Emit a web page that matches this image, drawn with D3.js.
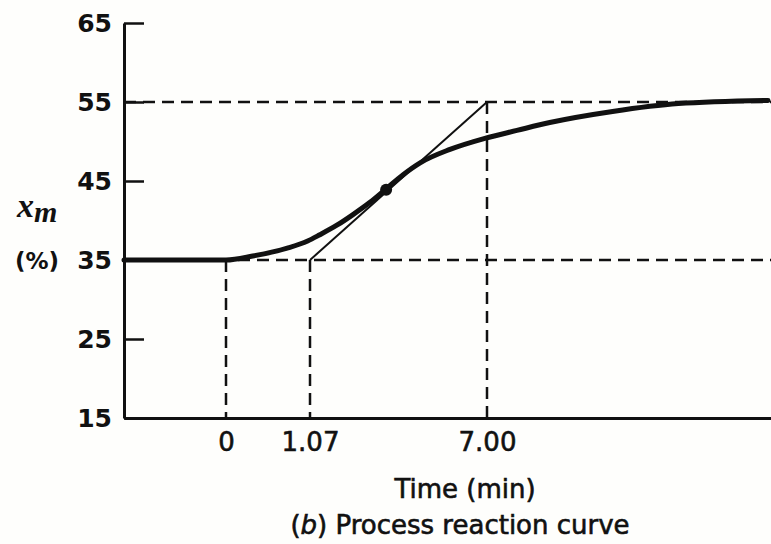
<!DOCTYPE html>
<html>
<head>
<meta charset="utf-8">
<script src="https://cdn.jsdelivr.net/npm/d3@7"></script>
<style>
  body { margin: 0; background: #fefefc; }
  svg { display: block; }
  .lbl { font-family: "DejaVu Sans", sans-serif; fill: #111; }
</style>
</head>
<body>
<div id="chart"></div>
<script>
// process reaction curve (time in min, x_m in %)
const curveTime  = [-1.3, 0, 0.34, 0.78, 1.04, 1.40, 1.97, 2.51, 3.08, 3.62, 4.19, 4.76, 5.76, 6.93, 8.0, 9.1, 11.2, 13.4, 16.4];
const curveValue = [35, 35, 35.5, 36.5, 37.4, 38.2, 39.4, 40.75, 42.3, 44.0, 45.8, 47.3, 49.0, 50.4, 51.4, 52.4, 53.8, 54.8, 55.2];

const timeTicks = [0, 1.07, 7.00];
const valueTicks = [15, 25, 35, 45, 55, 65];

const tangent = [[1.07, 35], [7.00, 55]];
const inflection = [3.62, 43.9];
const initialValue = 35, finalValue = 55;

const width = 771, height = 544;

// the figure is a sketch, time axis is not to scale -> piecewise scale
const x = d3.scaleLinear()
    .domain([-1.3, 0, 1.07, 7.00, 16.5])
    .range([124, 226, 310, 487, 771]);

const y = d3.scaleLinear()
    .domain([15, 65])
    .range([418, 23]);

const svg = d3.select("#chart")
    .append("svg")
    .attr("width", width)
    .attr("height", height);

// dashed guide lines
const dash = "12,7";
svg.append("g")
    .selectAll("line")
    .data([initialValue, finalValue])
    .enter().append("line")
    .attr("x1", x.range()[0])
    .attr("x2", width)
    .attr("y1", d => y(d))
    .attr("y2", d => y(d))
    .attr("stroke", "#111")
    .attr("stroke-width", 2.5)
    .attr("stroke-dasharray", dash);

svg.append("g")
    .selectAll("line")
    .data(timeTicks)
    .enter().append("line")
    .attr("x1", d => x(d))
    .attr("x2", d => x(d))
    .attr("y1", d => d >= 7 ? y(finalValue) : y(initialValue))
    .attr("y2", y(15))
    .attr("stroke", "#111")
    .attr("stroke-width", 2.5)
    .attr("stroke-dasharray", dash);

// axes
const yAxis = svg.append("g")
    .attr("transform", `translate(${x.range()[0]},0)`)
    .call(d3.axisLeft(y).tickValues(valueTicks).tickSize(-20).tickSizeOuter(0).tickPadding(12));

yAxis.select(".domain").attr("stroke", "#111").attr("stroke-width", 3);
yAxis.selectAll(".tick line").attr("stroke", "#111").attr("stroke-width", 2.5);
yAxis.selectAll(".tick text")
    .attr("class", "lbl")
    .style("font-size", "25px")
    .style("font-weight", "bold");

const xAxis = svg.append("g")
    .attr("transform", `translate(0,${y(15)})`)
    .call(d3.axisBottom(x).tickValues(timeTicks).tickSize(0).tickSizeOuter(0).tickPadding(15)
        .tickFormat(d => d === 0 ? "0" : d.toFixed(2)));

xAxis.select(".domain").attr("stroke", "#111").attr("stroke-width", 3);
xAxis.selectAll(".tick text")
    .attr("class", "lbl")
    .attr("stroke", "#111")
    .attr("stroke-width", 0.6)
    .style("font-size", "26px");

// tangent line
svg.append("path")
    .datum(tangent)
    .attr("fill", "none")
    .attr("stroke", "#111")
    .attr("stroke-width", 2)
    .attr("d", d3.line().x(d => x(d[0])).y(d => y(d[1])));

// response curve
const line = d3.line()
    .x(d => x(d[0]))
    .y(d => y(d[1]))
    .curve(d3.curveMonotoneX);

svg.append("path")
    .datum(curveTime.map((t, i) => [t, curveValue[i]]))
    .attr("fill", "none")
    .attr("stroke", "#111")
    .attr("stroke-width", 5)
    .attr("stroke-linecap", "round")
    .attr("d", line);

svg.append("circle")
    .attr("cx", x(inflection[0]))
    .attr("cy", y(inflection[1]))
    .attr("r", 6)
    .attr("fill", "#111");

// y label x_m (%)
const ylab = svg.append("text")
    .attr("x", 17)
    .attr("y", 217)
    .style("font-family", "'Liberation Serif', serif")
    .style("font-style", "italic")
    .style("font-weight", "bold")
    .attr("fill", "#111");
ylab.append("tspan").style("font-size", "34px").text("x");
ylab.append("tspan").attr("dy", 5).style("font-size", "30px").text("m");

svg.append("text")
    .attr("class", "lbl")
    .attr("x", 15)
    .attr("y", 269)
    .style("font-size", "23px")
    .style("font-weight", "bold")
    .text("(%)");

// axis title + caption
svg.append("text")
    .attr("class", "lbl")
    .attr("x", 465)
    .attr("y", 498)
    .attr("text-anchor", "middle")
    .attr("stroke", "#111")
    .attr("stroke-width", 0.6)
    .style("font-size", "26px")
    .text("Time (min)");

const cap = svg.append("text")
    .attr("class", "lbl")
    .attr("x", 460)
    .attr("y", 534)
    .attr("text-anchor", "middle")
    .attr("stroke", "#111")
    .attr("stroke-width", 0.6)
    .style("font-size", "26px");
cap.append("tspan").text("(");
cap.append("tspan").style("font-style", "italic").text("b");
cap.append("tspan").text(") Process reaction curve");
</script>
</body>
</html>
